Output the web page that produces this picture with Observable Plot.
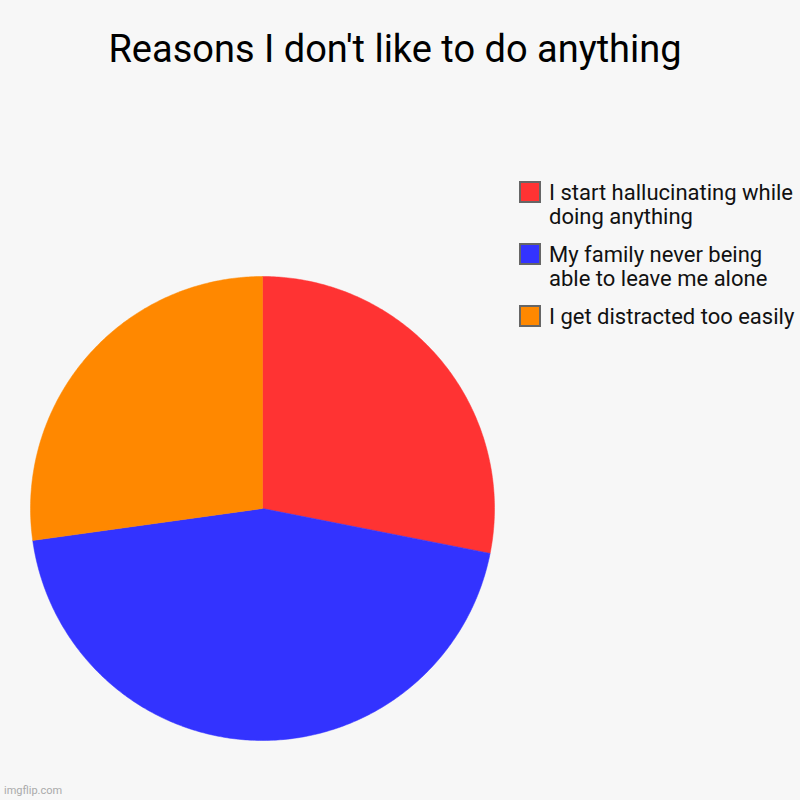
<!DOCTYPE html>
<html>
<head>
<meta charset="utf-8">
<script src="https://cdn.jsdelivr.net/npm/d3@7"></script>
<script src="https://cdn.jsdelivr.net/npm/@observablehq/plot@0.6"></script>
<style>
  html, body { margin: 0; padding: 0; background: #f7f7f7; }
  #wrap { position: relative; width: 800px; height: 800px; background: #f7f7f7; font-family: Roboto, "Noto Sans", sans-serif; overflow: hidden; }
  #title { position: absolute; left: 0; width: 790px; top: 26px; text-align: center; font-size: 38px; color: #000; line-height: 46px; }
  #pie { position: absolute; left: 30px; top: 276px; }
  #legend { position: absolute; left: 519px; top: 181px; }
  .item { display: flex; align-items: flex-start; margin-bottom: 14px; }
  .sw { width: 18px; height: 18px; border: 2px solid #666; box-sizing: content-box; flex: none; }
  .lab { margin-left: 8px; font-size: 22px; line-height: 24px; color: #111; width: 250px; margin-top: 0px; white-space: normal; }
  #wm { position: absolute; left: 4px; top: 784px; font-size: 11px; color: #aaa; }
</style>
</head>
<body>
<div id="wrap">
  <div id="title">Reasons I don't like to do anything</div>
  <div id="pie"></div>
  <div id="legend"></div>
  <div id="wm">imgflip.com</div>
</div>
<script>
const labels = ["I start hallucinating while doing anything", "My family never being able to leave me alone", "I get distracted too easily"];
const values = [28.1, 44.7, 27.2];
const colors = ["#ff3333", "#3333ff", "#ff8800"];

const data = labels.map((label, i) => ({label, value: values[i]}));
const arcs = d3.pie().sort(null).value(d => d.value)(data);

// slice outlines on the unit circle, angles clockwise from 12 o'clock
const pts = [];
for (const a of arcs) {
  const lab = a.data.label;
  pts.push({label: lab, x: 0, y: 0});
  const n = Math.max(2, Math.ceil((a.endAngle - a.startAngle) / 0.01));
  for (let k = 0; k <= n; k++) {
    const t = a.startAngle + (a.endAngle - a.startAngle) * k / n;
    pts.push({label: lab, x: Math.sin(t), y: Math.cos(t)});
  }
  pts.push({label: lab, x: 0, y: 0});
}

const size = 464;
const chart = Plot.plot({
  width: size,
  height: size,
  margin: 0,
  style: {background: "transparent", overflow: "visible"},
  x: {domain: [-1, 1], axis: null},
  y: {domain: [-1, 1], axis: null},
  color: {domain: labels, range: colors},
  marks: [
    Plot.line(pts, {x: "x", y: "y", z: "label", fill: "label", stroke: "label", strokeWidth: 0.5, curve: "linear"})
  ]
});
document.getElementById("pie").appendChild(chart);

const legend = document.getElementById("legend");
labels.forEach((l, i) => {
  const item = document.createElement("div");
  item.className = "item";
  const sw = document.createElement("div");
  sw.className = "sw";
  sw.style.background = colors[i];
  const lab = document.createElement("div");
  lab.className = "lab";
  lab.textContent = l;
  item.appendChild(sw);
  item.appendChild(lab);
  legend.appendChild(item);
});
</script>
</body>
</html>
